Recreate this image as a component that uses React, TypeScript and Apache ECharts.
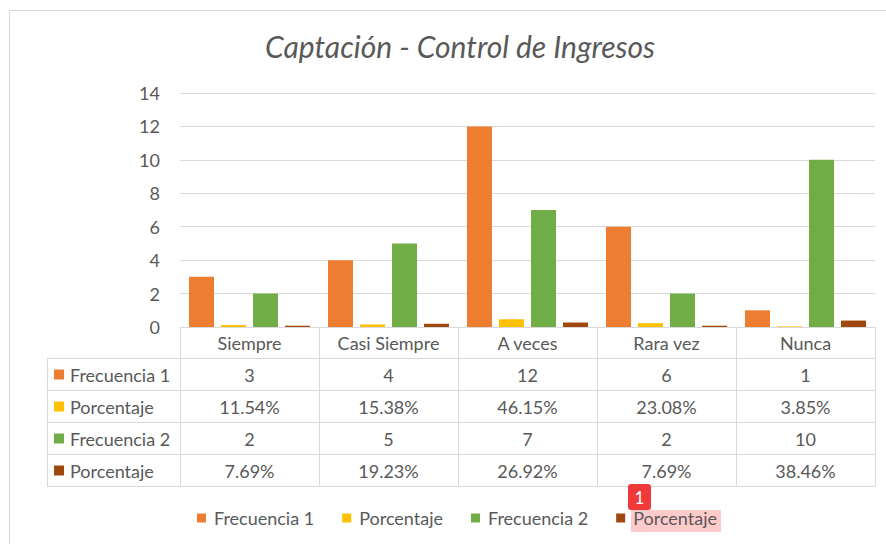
import React, { useEffect, useRef } from "react";
import * as echarts from "echarts";

const categories = ["Siempre", "Casi Siempre", "A veces", "Rara vez", "Nunca"];
const frecuencia1 = [3, 4, 12, 6, 1];
const porcentaje1 = [0.1154, 0.1538, 0.4615, 0.2308, 0.0385];
const frecuencia2 = [2, 5, 7, 2, 10];
const porcentaje2 = [0.0769, 0.1923, 0.2692, 0.0769, 0.3846];
const seriesLabels = ["Frecuencia 1", "Porcentaje", "Frecuencia 2", "Porcentaje"];
const seriesKeys = ["Frecuencia 1", "Porcentaje", "Frecuencia 2", "Porcentaje "];
const seriesValues = [frecuencia1, porcentaje1, frecuencia2, porcentaje2];
const seriesIsPercent = [false, true, false, true];
const colors = ["#ED7D31", "#FFC000", "#70AD47", "#9E480E"];
const yMin = 0;
const yMax = 14;
const yInterval = 2;
const titleText = "Captación - Control de Ingresos";

const FONT = "Lato, 'Open Sans', sans-serif";
const TEXT = "#595959";
const GRID_LINE = "#D9D9D9";
const FS = 18;

export default function App() {
  const ref = useRef<HTMLDivElement>(null);

  useEffect(() => {
    if (!ref.current) return;
    const chart = echarts.init(ref.current, undefined, { renderer: "svg" });

    const gridLeft = 180;
    const gridRight = 875;
    const gridTop = 93;
    const gridBottom = 327;
    const tableLeft = 47;
    const rowLines = [358, 390, 422, 454, 486];

    const option: any = {
      animation: false,
      backgroundColor: "#ffffff",
      textStyle: { fontFamily: FONT },
      title: {
        text: titleText,
        left: 455,
        top: 26,
        textAlign: "center",
        textStyle: {
          fontFamily: FONT,
          fontStyle: "italic",
          fontWeight: "normal",
          fontSize: 30,
          color: TEXT,
        },
      },
      grid: {
        left: gridLeft,
        right: 886 - gridRight,
        top: gridTop,
        bottom: 544 - gridBottom,
        containLabel: false,
      },
      legend: {
        data: seriesKeys,
        left: 197,
        top: 509,
        padding: 0,
        itemWidth: 9,
        itemHeight: 9,
        itemGap: 28,
        icon: "rect",
        formatter: (name: string) => name.trim(),
        textStyle: { fontFamily: FONT, fontSize: FS, color: TEXT, padding: [0, 0, 0, 3] },
      },
      xAxis: {
        type: "category",
        data: categories,
        axisLine: { show: true, lineStyle: { color: GRID_LINE, width: 1 } },
        axisTick: {
          show: true,
          length: rowLines[rowLines.length - 1] - gridBottom,
          interval: 0,
          lineStyle: { color: GRID_LINE, width: 1 },
        },
        axisLabel: {
          show: true,
          interval: 0,
          margin: 7,
          fontFamily: FONT,
          fontSize: FS,
          color: TEXT,
        },
        splitLine: { show: false },
      },
      yAxis: {
        type: "value",
        min: yMin,
        max: yMax,
        interval: yInterval,
        axisLine: { show: false },
        axisTick: { show: false },
        axisLabel: { margin: 20, fontFamily: FONT, fontSize: FS, color: TEXT },
        splitLine: { lineStyle: { color: GRID_LINE, width: 1 } },
      },
      series: seriesKeys.map((name, i) => ({
        name,
        type: "bar",
        data: seriesValues[i],
        barWidth: 25,
        barGap: "28%",
        itemStyle: { color: colors[i] },
      })),
    };

    chart.setOption(option);

    const graphics: any[] = [];
    graphics.push({
      type: "rect",
      shape: { x: 9.5, y: 10.5, width: 1000, height: 1000 },
      style: { fill: "none", stroke: GRID_LINE, lineWidth: 1 },
      silent: true,
      z: -10,
    });
    rowLines.forEach((y) => {
      graphics.push({
        type: "line",
        shape: { x1: tableLeft, y1: y + 0.5, x2: gridRight, y2: y + 0.5 },
        style: { stroke: GRID_LINE, lineWidth: 1 },
        silent: true,
      });
    });
    graphics.push({
      type: "line",
      shape: { x1: tableLeft + 0.5, y1: rowLines[0], x2: tableLeft + 0.5, y2: rowLines[rowLines.length - 1] + 0.5 },
      style: { stroke: GRID_LINE, lineWidth: 1 },
      silent: true,
    });

    seriesLabels.forEach((label, r) => {
      const cy = (rowLines[r] + rowLines[r + 1]) / 2 + 0.5;
      graphics.push({
        type: "rect",
        shape: { x: 54, y: cy - 5, width: 10, height: 10 },
        style: { fill: colors[r] },
        silent: true,
      });
      graphics.push({
        type: "text",
        x: 70,
        y: cy,
        style: {
          text: label,
          fontFamily: FONT,
          fontSize: FS,
          fill: TEXT,
          align: "left",
          verticalAlign: "middle",
        },
        silent: true,
      });
      seriesValues[r].forEach((v, c) => {
        const px = chart.convertToPixel({ xAxisIndex: 0 }, categories[c]) as number;
        const txt = seriesIsPercent[r] ? (v * 100).toFixed(2) + "%" : String(v);
        graphics.push({
          type: "text",
          x: px,
          y: cy,
          style: {
            text: txt,
            fontFamily: FONT,
            fontSize: FS,
            fill: TEXT,
            align: "center",
            verticalAlign: "middle",
          },
          silent: true,
        });
      });
    });

    // annotation marker on last legend item
    graphics.push({
      type: "rect",
      shape: { x: 631, y: 510, width: 90, height: 22 },
      style: { fill: "#FFCACA" },
      silent: true,
      z: -1,
    });
    graphics.push({
      type: "rect",
      shape: { x: 628, y: 484, width: 23, height: 26, r: 3 },
      style: { fill: "#F03A3A" },
      silent: true,
      z: 10,
    });
    graphics.push({
      type: "text",
      x: 639.5,
      y: 497.5,
      style: {
        text: "1",
        fontFamily: FONT,
        fontSize: 17,
        fill: "#ffffff",
        align: "center",
        verticalAlign: "middle",
      },
      silent: true,
      z: 11,
    });

    chart.setOption({ graphic: graphics });

    return () => {
      chart.dispose();
    };
  }, []);

  return (
    <div
      ref={ref}
      style={{ position: "fixed", left: 0, top: 0, width: 886, height: 544, background: "#fff" }}
    />
  );
}
